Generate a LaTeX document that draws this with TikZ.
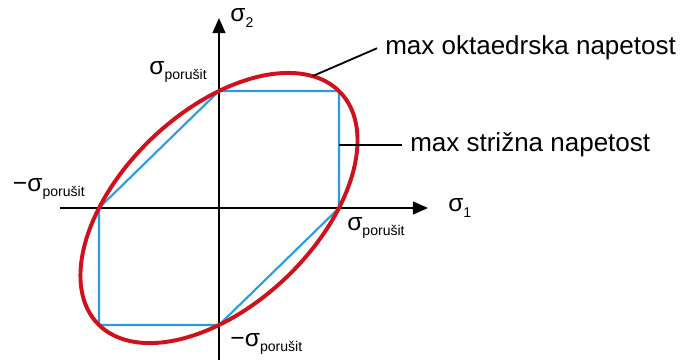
\documentclass[tikz,border=0pt]{standalone}
\usepackage{fontspec}
\setmainfont{Liberation Sans}
\usetikzlibrary{positioning, arrows.meta}

\definecolor{misesred}{RGB}{208,16,28}
\definecolor{trescablue}{RGB}{45,155,225}
\newcommand{\sgm}[1]{{\fontsize{17.5}{17.5}\selectfont σ}\raisebox{-4pt}{\fontsize{10}{10}\selectfont #1}}
\newcommand{\msgm}[1]{{\fontsize{17.5}{17.5}\selectfont −}\sgm{#1}}

\begin{document}
\begin{tikzpicture}[
  x=3cm, y=2.925cm,
  font=\fontsize{18.5}{22}\selectfont,
  axis/.style={line width=1.5pt, -{Triangle[length=0.38cm, width=0.32cm]}},
  tresca/.style={line width=1.5pt, draw=trescablue, line join=miter},
  mises/.style={line width=2.8pt, draw=misesred},
  leader/.style={line width=1.3pt},
  stress/.style={inner sep=0pt},
  remark/.style={inner xsep=0.2cm, inner ysep=0pt, anchor=base west},
]
\useasboundingbox (-1.825,-1.299) rectangle (3.892,1.778);

% axes
\draw[axis] (-1.325,0) -- (1.742,0) coordinate (s1tip);
\draw[axis] (0,-1.31) -- (0,1.624) coordinate (s2tip);
\node[stress, right=0.5cm of s1tip] (s1) {\sgm{1}};
\node[stress, right=0.28cm of s2tip] (s2) {\sgm{2}};

% max shear stress hexagon
\coordinate (top) at (0,1);
\coordinate (tr) at (1,1);
\coordinate (rgt) at (1,0);
\coordinate (bot) at (0,-1);
\coordinate (bl) at (-1,-1);
\coordinate (lft) at (-1,0);
\draw[tresca] (top) -- (tr) -- (rgt) -- (bot) -- (bl) -- (lft) -- cycle;

% octahedral stress ellipse
\draw[mises] plot[smooth cycle, domain=0:356, samples=90]
  ({cos(\x)+sin(\x)/sqrt(3)}, {cos(\x)-sin(\x)/sqrt(3)});
\coordinate (okt) at ({cos(-17.5)+sin(-17.5)/sqrt(3)}, {cos(-17.5)-sin(-17.5)/sqrt(3)});

% failure stresses
\node[stress, above left=0.2cm and 0.3cm of top] (ptop) {\sgm{porušit}};
\node[stress, above left=0.2cm and 0.35cm of lft] (plft) {\msgm{porušit}};
\node[stress, below right=0.22cm and 0.2cm of rgt] (prgt) {\sgm{porušit}};
\node[stress, below right=0.2cm and 0.28cm of bot] (pbot) {\msgm{porušit}};

% remarks
\node[remark] (oktlbl) at (1.317,1.308) {max oktaedrska napetost};
\node[remark] (strlbl) at (1.525,0.479) {max strižna napetost};
\draw[leader] (okt) -- (oktlbl.west);
\draw[leader] (rgt |- strlbl.west) -- (strlbl.west);

\end{tikzpicture}
\end{document}
